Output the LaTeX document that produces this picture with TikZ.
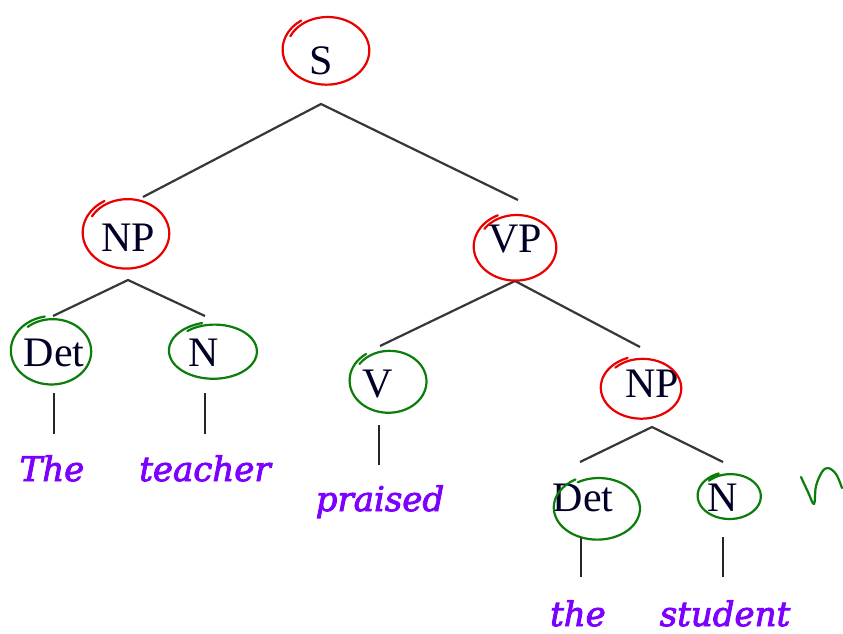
\documentclass[tikz,border=0pt]{standalone}
\usepackage{fontspec}
\setmainfont{Liberation Serif}
\newfontfamily\wordfont{DejaVu Serif}[
  BoldItalicFont={DejaVu Serif Italic},
  BoldItalicFeatures={FakeBold=2.5}]
\definecolor{wordviolet}{RGB}{125,0,255}
\definecolor{branchgray}{RGB}{55,55,55}
\definecolor{markred}{RGB}{235,0,0}
\definecolor{markgreen}{RGB}{10,125,10}
\tikzset{
  cat/.style={anchor=base, inner sep=0pt, font=\fontsize{42}{46}\selectfont, text=black!85!blue},
  word/.style={anchor=base, inner sep=0pt, font=\fontsize{34}{40}\wordfont\bfseries\itshape, text=wordviolet},
  branch/.style={draw=branchgray, line width=2.2pt},
  stem/.style={draw=black!85, line width=2.2pt},
  hand/.style={line width=2.2pt, line cap=round, line join=round},
}
% hand-drawn loop: colour, cx, cy, rx, ry, start angle, end angle
\newcommand{\scribble}[7]{%
  \draw[#1, hand] plot[smooth, variable=\t, domain=#6:#7, samples=50]
    ({#2+#4*(1-0.1*(\t-#6)/(#7-#6))*cos(\t)},
     {#3-#5*(1-0.1*(\t-#6)/(#7-#6))*sin(\t)});}
\begin{document}
\begin{tikzpicture}[x=1pt, y=-1pt]
\useasboundingbox (0,0) rectangle (843,633);
\fill[white] (0,0) rectangle (843,633);

% categories
\node[cat] (S)    at (321,74)  {S};
\node[cat] (NPa)  at (128,251) {NP};
\node[cat] (VP)   at (515,252) {VP};
\node[cat] (Deta) at (54,366)  {Det};
\node[cat] (Na)   at (204,366) {N};
\node[cat] (V)    at (378,397) {V};
\node[cat] (NPb)  at (652,397) {NP};
\node[cat] (Detb) at (583,511) {Det};
\node[cat] (Nb)   at (723,511) {N};

% words
\node[word] (w1) at (52,481)  {The};
\node[word] (w2) at (205,481) {teacher};
\node[word] (w3) at (380,511) {praised};
\node[word] (w4) at (578,626) {the};
\node[word] (w5) at (725,626) {student};

% branch end points
\coordinate (S-b)    at (321,104);
\coordinate (NPa-t)  at (143,197);
\coordinate (VP-t)   at (518,200);
\coordinate (NPa-b)  at (128,280);
\coordinate (Deta-t) at (53,316);
\coordinate (Na-t)   at (205,316);
\coordinate (VP-b)   at (515,281);
\coordinate (V-t)    at (380,346);
\coordinate (NPb-t)  at (640,347);
\coordinate (NPb-b)  at (652,427);
\coordinate (Detb-t) at (580,462);
\coordinate (Nb-t)   at (723,462);
\coordinate (Deta-s) at (54,393);  \coordinate (w1-s) at (54,434);
\coordinate (Na-s)   at (205,393); \coordinate (w2-s) at (205,434);
\coordinate (V-s)    at (379,425); \coordinate (w3-s) at (379,465);
\coordinate (Detb-s) at (581,537); \coordinate (w4-s) at (581,577);
\coordinate (Nb-s)   at (723,537); \coordinate (w5-s) at (723,577);

% branches
\draw[branch] (NPa-t) -- (S-b) -- (VP-t);
\draw[branch] (Deta-t) -- (NPa-b) -- (Na-t);
\draw[branch] (V-t) -- (VP-b) -- (NPb-t);
\draw[branch] (Detb-t) -- (NPb-b) -- (Nb-t);

% lexical stems
\draw[stem] (Deta-s) -- (w1-s);
\draw[stem] (Na-s) -- (w2-s);
\draw[stem] (V-s) -- (w3-s);
\draw[stem] (Detb-s) -- (w4-s);
\draw[stem] (Nb-s) -- (w5-s);

% phrase marks
\scribble{markred}{327}{50}{45}{36}{125}{515}
\scribble{markred}{127}{233}{45}{37}{120}{510}
\scribble{markred}{516}{247}{43}{35}{115}{505}
\scribble{markred}{642}{388}{42}{32}{110}{495}

% word-class marks
\scribble{markgreen}{52}{351}{42}{35}{100}{490}
\scribble{markgreen}{214}{351}{46}{29}{105}{490}
\scribble{markgreen}{389}{381}{40}{33}{125}{505}
\scribble{markgreen}{598}{508}{45}{33}{120}{480}
\scribble{markgreen}{730}{496}{33}{24}{110}{495}

% stray pen stroke
\draw[markgreen, hand] plot[smooth, tension=0.6] coordinates
  {(801,477) (808,492) (814,504) (816,486) (822,472) (828,468) (836,474) (842,488)};
\end{tikzpicture}
\end{document}
